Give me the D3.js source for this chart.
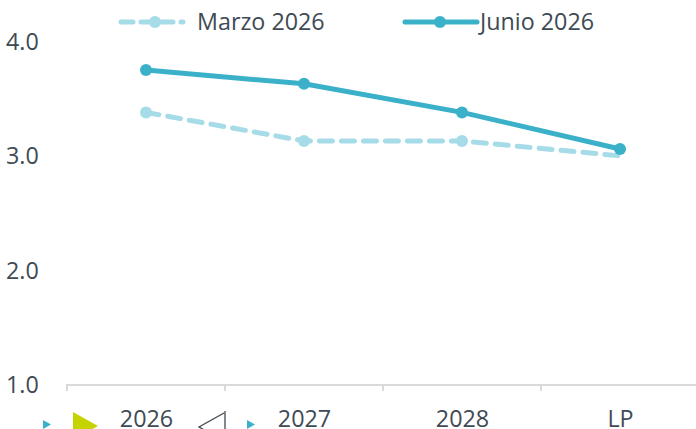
<!DOCTYPE html>
<html><head><meta charset="utf-8">
<script src="https://cdn.jsdelivr.net/npm/d3@7"></script>
<style>body{margin:0;background:#fff;overflow:hidden}svg{display:block}</style>
</head><body><svg id="c" width="696" height="429"></svg>
<script>
const categories = ["2026","2027","2028","LP"];
const marzo = [3.38, 3.13, 3.13, 3.0];
const junio = [3.75, 3.63, 3.38, 3.06];
const yTicks = [1.0, 2.0, 3.0, 4.0];
const seriesNames = ["Marzo 2026", "Junio 2026"];

const svg = d3.select("#c");
const font = "'Open Sans', sans-serif";
const fs = 23.3;
const textColor = "#404a54";
const cMarzo = "#a6dbe8", cJunio = "#3ab1c9";

const x = d3.scaleBand().domain(categories).range([67, 699]).paddingInner(0).paddingOuter(0);
const y = d3.scaleLinear().domain([1, 4]).range([384.5, 41.5]);

// y labels
svg.append("g").selectAll("text").data(yTicks).join("text")
  .attr("x", 6).attr("y", d => y(d)).attr("dy", "0.36em")
  .attr("font-family", font).attr("font-size", fs).attr("fill", textColor)
  .text(d => d.toFixed(1));

// x axis
const xa = svg.append("g").attr("transform", "translate(0,385)")
  .call(d3.axisBottom(x).tickSize(0).tickFormat(""));
xa.select(".domain").attr("stroke", "#d9d9d9").attr("stroke-width", 2).attr("d", "M67,6V0H699");
xa.selectAll(".tick").remove();
const bounds = categories.map(c => x(c)).concat([x(categories[categories.length-1]) + x.bandwidth()]);
svg.append("g").selectAll("line").data(bounds).join("line")
  .attr("x1", d => d).attr("x2", d => d).attr("y1", 385).attr("y2", 391)
  .attr("stroke", "#d9d9d9").attr("stroke-width", 2);
svg.append("g").selectAll("text").data(categories).join("text")
  .attr("x", d => x(d) + x.bandwidth()/2 + 0.5).attr("y", 427)
  .attr("text-anchor", "middle").attr("font-family", font).attr("font-size", fs).attr("fill", textColor)
  .text(d => d);

// decorative glyphs at bottom
const glyphs = svg.append("g");
glyphs.append("path").attr("d", "M43,420L51,424.5L43,429Z").attr("fill", "#3ab1c9");
glyphs.append("path").attr("d", "M73,412L98,426L73,440Z").attr("fill", "#c5d400");
glyphs.append("path").attr("d", "M225,411L225,440M224,413L199,427L224,441").attr("fill", "none").attr("stroke", "#404a54").attr("stroke-width", 1.3);
glyphs.append("path").attr("d", "M247,420L255,424.5L247,429Z").attr("fill", "#3ab1c9");

const line = d3.line().x((d, i) => x(categories[i]) + x.bandwidth()/2).y(d => y(d));

// Marzo
svg.append("path").datum(marzo).attr("d", line).attr("fill", "none")
  .attr("stroke", cMarzo).attr("stroke-width", 5).attr("stroke-dasharray", "13,9").attr("stroke-linecap", "round");
svg.append("g").selectAll("circle").data(marzo.slice(0,3)).join("circle")
  .attr("cx", (d, i) => x(categories[i]) + x.bandwidth()/2).attr("cy", d => y(d)).attr("r", 6).attr("fill", cMarzo);

// Junio
svg.append("path").datum(junio).attr("d", line).attr("fill", "none")
  .attr("stroke", cJunio).attr("stroke-width", 5).attr("stroke-linejoin", "round");
svg.append("g").selectAll("circle").data(junio).join("circle")
  .attr("cx", (d, i) => x(categories[i]) + x.bandwidth()/2).attr("cy", d => y(d)).attr("r", 6).attr("fill", cJunio);

// legend
const lg = svg.append("g");
lg.append("line").attr("x1", 121).attr("x2", 183).attr("y1", 22).attr("y2", 22)
  .attr("stroke", cMarzo).attr("stroke-width", 5).attr("stroke-dasharray", "12,8").attr("stroke-linecap", "round");
lg.append("circle").attr("cx", 155).attr("cy", 22).attr("r", 6).attr("fill", cMarzo);
lg.append("text").attr("x", 197).attr("y", 22).attr("dy", "0.36em")
  .attr("font-family", font).attr("font-size", fs).attr("fill", textColor).text(seriesNames[0]);
lg.append("line").attr("x1", 405).attr("x2", 477).attr("y1", 22).attr("y2", 22)
  .attr("stroke", cJunio).attr("stroke-width", 5).attr("stroke-linecap", "round");
lg.append("circle").attr("cx", 440).attr("cy", 22).attr("r", 6).attr("fill", cJunio);
lg.append("text").attr("x", 480).attr("y", 22).attr("dy", "0.36em")
  .attr("font-family", font).attr("font-size", fs).attr("fill", textColor).text(seriesNames[1]);
</script></body></html>
